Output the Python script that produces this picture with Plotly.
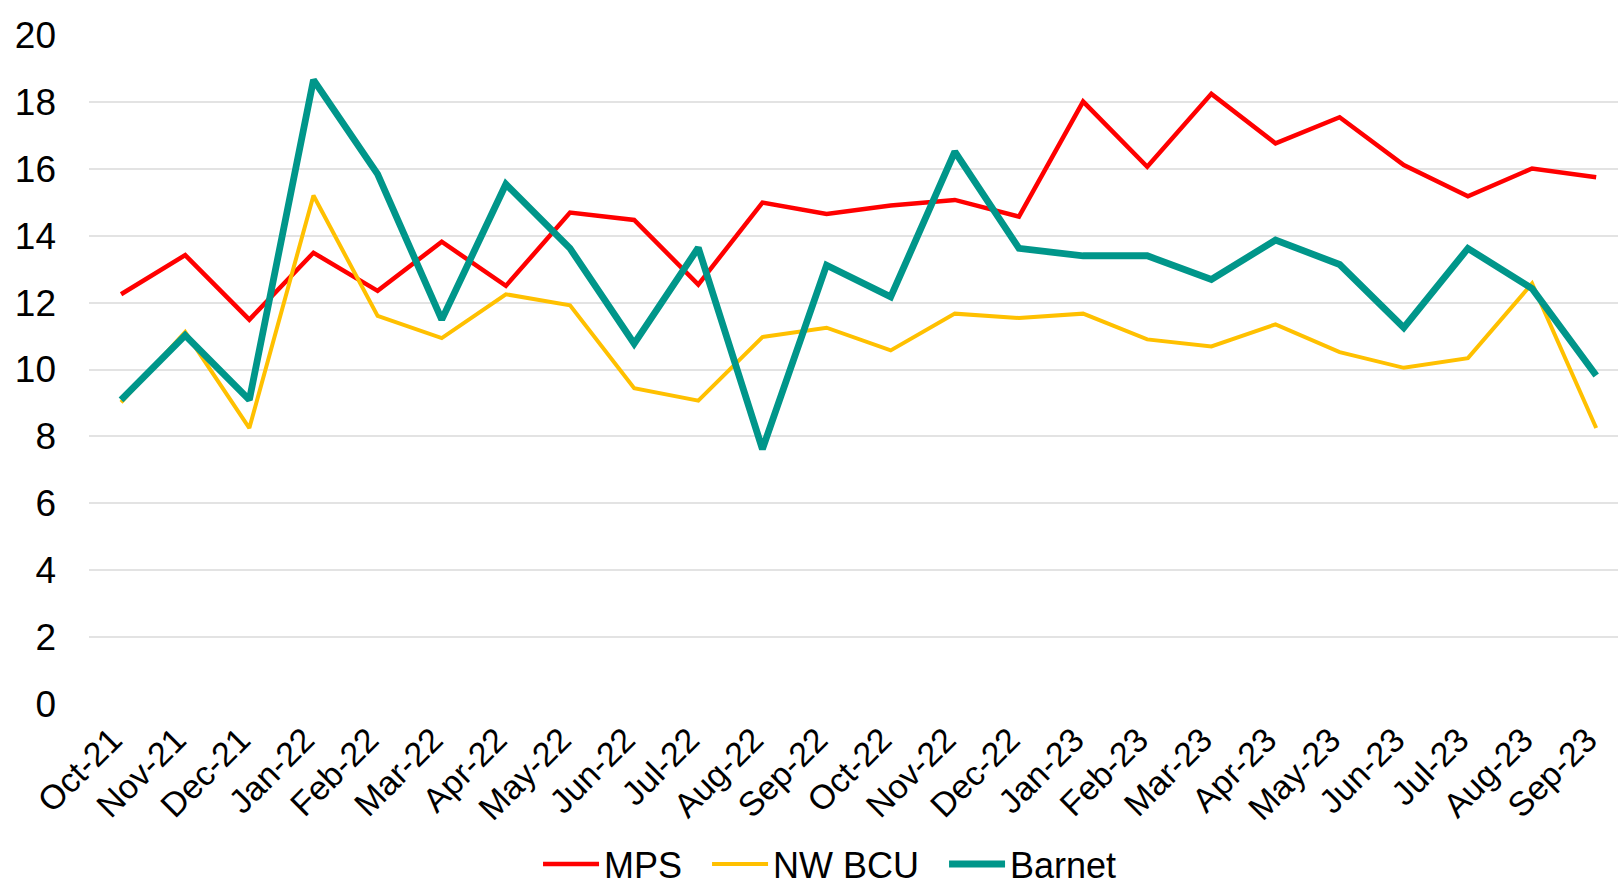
import plotly.graph_objects as go

months = ["Oct-21", "Nov-21", "Dec-21", "Jan-22", "Feb-22", "Mar-22", "Apr-22", "May-22",
          "Jun-22", "Jul-22", "Aug-22", "Sep-22", "Oct-22", "Nov-22", "Dec-22", "Jan-23",
          "Feb-23", "Mar-23", "Apr-23", "May-23", "Jun-23", "Jul-23", "Aug-23", "Sep-23"]

mps = [12.25, 13.42, 11.49, 13.49, 12.35, 13.82, 12.5, 14.69,
       14.47, 12.54, 14.99, 14.65, 14.9, 15.07, 14.57, 18.01,
       16.06, 18.24, 16.76, 17.54, 16.11, 15.18, 16.01, 15.75]

nw_bcu = [9.02, 11.12, 8.25, 15.2, 11.6, 10.94, 12.25, 11.92,
          9.44, 9.07, 10.97, 11.25, 10.57, 11.67, 11.54, 11.67,
          10.9, 10.69, 11.35, 10.52, 10.05, 10.34, 12.57, 8.25]

barnet = [9.09, 11.02, 9.09, 18.66, 15.84, 11.49, 15.54, 13.62,
          10.77, 13.64, 7.62, 13.12, 12.17, 16.51, 13.62, 13.4,
          13.4, 12.69, 13.87, 13.14, 11.25, 13.62, 12.42, 9.82]

y_ticks = [0, 2, 4, 6, 8, 10, 12, 14, 16, 18, 20]

font_family = "Liberation Sans, Arial, sans-serif"
pad = "\u00a0\u00a0"

fig = go.Figure()
fig.add_trace(go.Scatter(x=months, y=mps, name="MPS" + pad, mode="lines",
                         line=dict(color="#FF0000", width=4.5)))
fig.add_trace(go.Scatter(x=months, y=nw_bcu, name="NW BCU" + pad, mode="lines",
                         line=dict(color="#FFC000", width=4)))
fig.add_trace(go.Scatter(x=months, y=barnet, name="Barnet", mode="lines",
                         line=dict(color="#00968A", width=6.8)))

fig.update_layout(
    width=1618, height=889,
    margin=dict(l=89, r=0, t=35, b=185, autoexpand=False),
    paper_bgcolor="white", plot_bgcolor="white",
    font=dict(family=font_family, size=36, color="black"),
    showlegend=True,
    legend=dict(orientation="h", xref="container", yref="container",
                x=0.513, xanchor="center", y=0.028, yanchor="middle",
                font=dict(size=36), itemwidth=56, tracegroupgap=0,
                bgcolor="rgba(0,0,0,0)"),
    xaxis=dict(type="category", categoryorder="array", categoryarray=months,
               range=[-0.5, 23.34], tickangle=-45, showgrid=False, zeroline=False,
               showline=False, ticks="", ticklabelstandoff=8, ticklabelshift=-9,
               tickfont=dict(size=34)),
    yaxis=dict(range=[0, 20], tickvals=y_ticks, showgrid=True, gridcolor="#E3E3E3",
               gridwidth=1.5, zeroline=False, showline=False, ticks="",
               ticklabelstandoff=32, tickfont=dict(size=37)),
)

fig.write_html("out.html", config={"displayModeBar": False},
               post_script="document.body.style.margin='0';")
